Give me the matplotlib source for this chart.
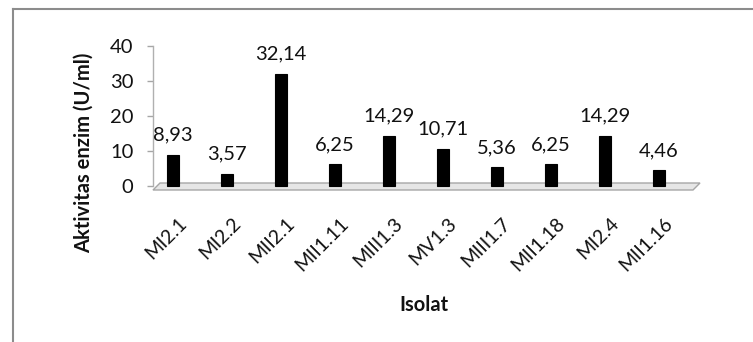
import matplotlib
matplotlib.use("Agg")
import matplotlib.pyplot as plt
from matplotlib.patches import Polygon
from matplotlib.lines import Line2D
import matplotlib.transforms as mtransforms

isolat = ["MI2.1", "MI2.2", "MII2.1", "MII1.11", "MIII1.3",
          "MV1.3", "MIII1.7", "MII1.18", "MI2.4", "MII1.16"]
aktivitas = [8.93, 3.57, 32.14, 6.25, 14.29, 10.71, 5.36, 6.25, 14.29, 4.46]
y_ticks = [0, 10, 20, 30, 40]

plt.rcParams["font.family"] = ["Lato", "DejaVu Sans"]
TEXT = "#111111"

W, H = 753, 342
fig = plt.figure(figsize=(W / 100, H / 100), dpi=100)

def px(x, y):
    return (x / W, 1 - y / H)

# plot area in pixels
left_px, right_px, top_px, bottom_px = 153, 700, 46, 186
ax = fig.add_axes([left_px / W, 1 - bottom_px / H,
                   (right_px - left_px) / W, (bottom_px - top_px) / H])

# 3D-looking floor under the columns
floor = Polygon([px(153, 190), px(693, 190), px(700, 183), px(160, 183)],
                closed=True, transform=fig.transFigure,
                facecolor="#e6e6e6", edgecolor="#a6a6a6", lw=1.0, zorder=0)
fig.add_artist(floor)

xs = list(range(len(isolat)))
ax.bar(xs, aktivitas, width=0.24, color="black", edgecolor="black",
       linewidth=0.8, zorder=3, clip_on=False)

for x, v in zip(xs, aktivitas):
    ax.annotate(f"{v:.2f}".replace(".", ","), (x, v), xytext=(0, 8),
                textcoords="offset points", ha="center", va="bottom",
                fontsize=14.5, color=TEXT)

ax.set_xlim(-0.37, -0.37 + (right_px - left_px) / 54)
ax.set_ylim(0, 40)
ax.set_yticks(y_ticks)
ax.set_yticklabels([str(t) for t in y_ticks], fontsize=14.5, color=TEXT)
ax.tick_params(axis="y", length=4, width=1, color="#a6a6a6", pad=10)

ax.set_xticks(xs)
ax.set_xticklabels(isolat, rotation=45, ha="right", va="center",
                   rotation_mode="anchor", fontsize=14, color=TEXT)
ax.tick_params(axis="x", length=0, pad=25)
shift = mtransforms.ScaledTranslation(11 / 100, 0, fig.dpi_scale_trans)
for lab in ax.get_xticklabels():
    lab.set_transform(lab.get_transform() + shift)

for s in ["top", "right", "bottom"]:
    ax.spines[s].set_visible(False)
ax.spines["left"].set_color("#b0b0b0")
ax.spines["left"].set_linewidth(1.0)
ax.patch.set_alpha(0)

fig.text(84 / W, 1 - 153 / H, "Aktivitas enzim (U/ml)", rotation=90,
         ha="center", va="center", fontsize=14.5, fontweight="bold", color=TEXT)
fig.text(424 / W, 1 - 305 / H, "Isolat", ha="center", va="center",
         fontsize=14.5, fontweight="bold", color=TEXT)

# chart area border (left and top edges)
fig.add_artist(Line2D([13 / W, 13 / W], [0, 1 - 9 / H],
                      transform=fig.transFigure, color="#8c8c8c", lw=1.5))
fig.add_artist(Line2D([13 / W, 1], [1 - 9 / H, 1 - 9 / H],
                      transform=fig.transFigure, color="#8c8c8c", lw=1.5))

fig.savefig("out.png", dpi=100, facecolor="white")
